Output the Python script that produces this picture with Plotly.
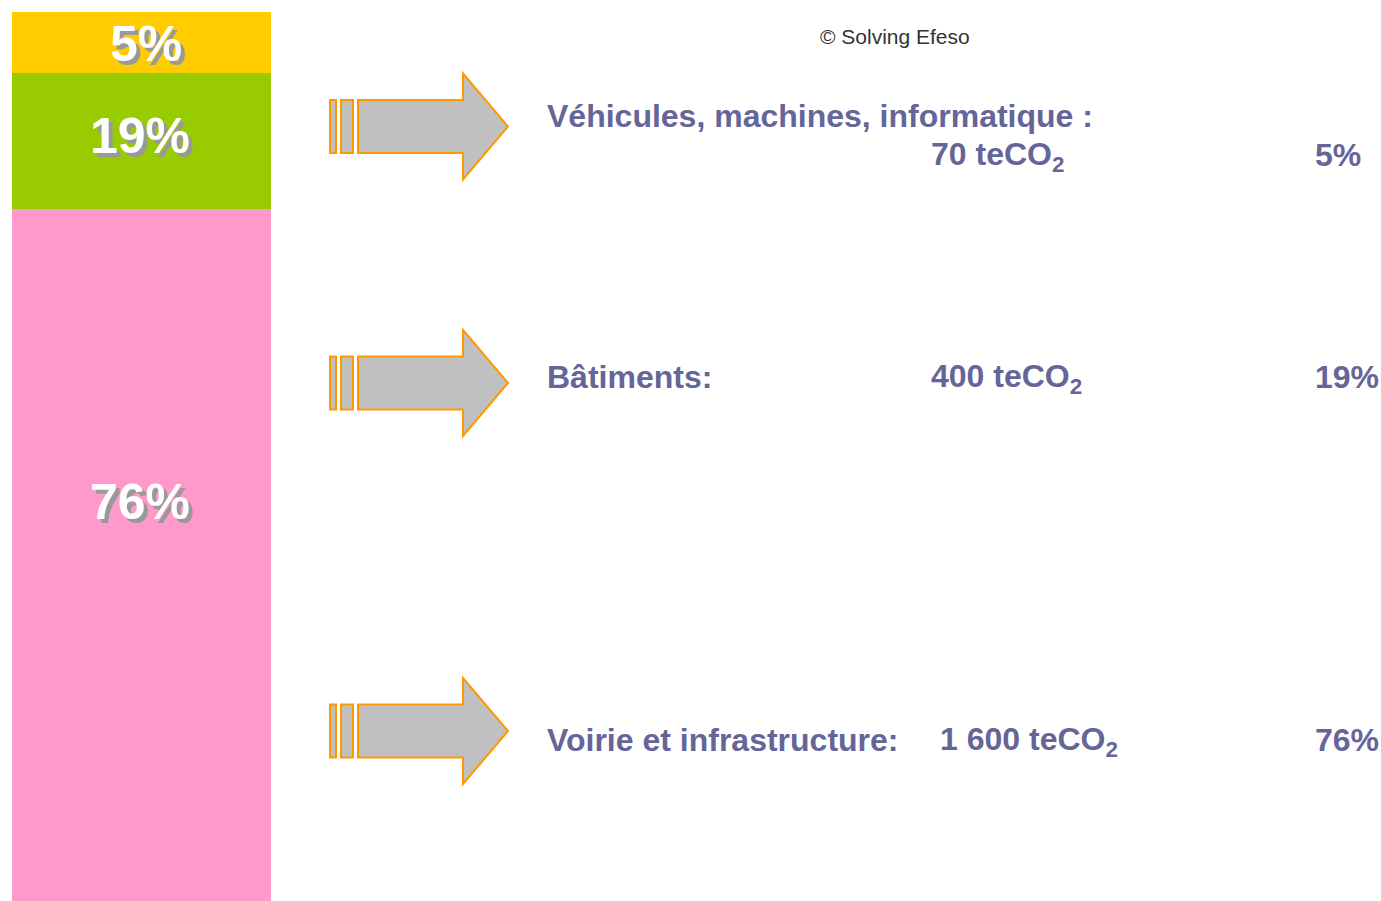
import plotly.graph_objects as go

# ---- data ----
categories = ["Véhicules, machines, informatique :", "Bâtiments:", "Voirie et infrastructure:"]
emissions_labels = ["70 teCO<sub>2</sub>", "400 teCO<sub>2</sub>", "1 600 teCO<sub>2</sub>"]
percent_labels = ["5%", "19%", "76%"]
# segment heights as drawn in the picture (share of the bar, top to bottom)
bar_share = [6.83, 15.33, 77.84]
seg_colors = ["#FFCC00", "#99CC00", "#FF99CC"]

W, H = 1381, 901
TEXT_COLOR = "#656598"
FONT = "Liberation Sans, Arial, sans-serif"

fig = go.Figure()

# stacked bar: bottom segment first
for share, col in zip(bar_share[::-1], seg_colors[::-1]):
    fig.add_trace(go.Bar(x=["total"], y=[share], marker=dict(color=col, line=dict(width=0)),
                         width=1, hoverinfo="skip", showlegend=False, xaxis="x", yaxis="y"))

# invisible trace for the pixel overlay axis
fig.add_trace(go.Scatter(x=[0, W], y=[0, H], mode="markers", marker=dict(opacity=0),
                         hoverinfo="skip", showlegend=False, xaxis="x2", yaxis="y2"))

annotations = []
shapes = []

# percentage labels on the bar (with drop shadow)
bar_label_pos = [(146, 44), (140, 136), (140, 502)]
for (lx, ly), txt in zip(bar_label_pos, percent_labels):
    for dx, dy, c in [(4, 4, "#999999"), (0, 0, "#FFFFFF")]:
        annotations.append(dict(x=lx + dx, y=ly + dy, xref="x2", yref="y2", text=f"<b>{txt}</b>",
                                showarrow=False, xanchor="center", yanchor="middle",
                                font=dict(family=FONT, size=50, color=c)))

# arrows
arrow_cy = [126.5, 383, 731]
for cy in arrow_cy:
    bh, hh = 26.5, 53
    for x0, x1 in [(330, 336), (341, 353)]:
        shapes.append(dict(type="rect", xref="x2", yref="y2", x0=x0, x1=x1, y0=cy - bh, y1=cy + bh,
                           fillcolor="#C0C0C0", line=dict(color="#FF9900", width=2)))
    path = (f"M358,{cy - bh} L463,{cy - bh} L463,{cy - hh} L508,{cy} L463,{cy + hh} "
            f"L463,{cy + bh} L358,{cy + bh} Z")
    shapes.append(dict(type="path", xref="x2", yref="y2", path=path,
                       fillcolor="#C0C0C0", line=dict(color="#FF9900", width=2)))

# right-hand text
label_pos = [(545, 116), (545, 377), (545, 740)]
value_pos = [(929, 156), (929, 378), (938, 741)]
pct_pos = [(1313, 155), (1313, 377), (1313, 740)]
for i in range(3):
    for (px, py), txt in [(label_pos[i], categories[i]), (value_pos[i], emissions_labels[i]),
                          (pct_pos[i], percent_labels[i])]:
        annotations.append(dict(x=px, y=py, xref="x2", yref="y2", text=f"<b>{txt}</b>",
                                showarrow=False, xanchor="left", yanchor="middle",
                                font=dict(family=FONT, size=32, color=TEXT_COLOR)))

annotations.append(dict(x=895, y=36, xref="x2", yref="y2", text="© Solving Efeso", showarrow=False,
                        xanchor="center", yanchor="middle", font=dict(family=FONT, size=21, color="#333333")))

fig.update_layout(
    width=W, height=H, margin=dict(l=0, r=0, t=0, b=0),
    paper_bgcolor="white", plot_bgcolor="rgba(0,0,0,0)",
    barmode="stack", bargap=0,
    xaxis=dict(domain=[12 / W, 271 / W], visible=False, fixedrange=True, anchor="y"),
    yaxis=dict(domain=[0, (H - 12) / H], range=[0, sum(bar_share)],
               visible=False, fixedrange=True, anchor="x"),
    xaxis2=dict(domain=[0, 1], range=[0, W], visible=False, anchor="y2", fixedrange=True),
    yaxis2=dict(domain=[0, 1], range=[H, 0], visible=False, anchor="x2", fixedrange=True),
    annotations=annotations, shapes=shapes,
)

fig.write_html("out.html", config={"displayModeBar": False},
               post_script="document.body.style.margin='0px'; document.body.style.overflow='hidden';")
